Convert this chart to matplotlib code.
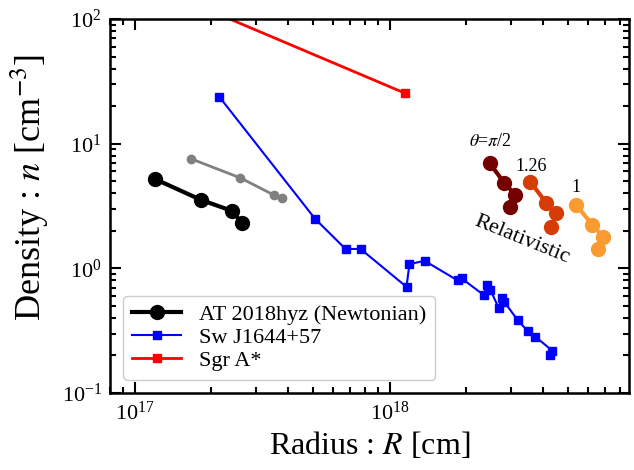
import matplotlib
matplotlib.use('Agg')
import matplotlib.pyplot as plt

# AT 2018hyz (Newtonian) and its companion grey curve
hyz_r = [1.20e17, 1.82e17, 2.42e17, 2.63e17]
hyz_n = [5.21, 3.54, 2.88, 2.31]
grey_r = [1.67e17, 2.60e17, 3.51e17, 3.77e17]
grey_n = [7.54, 5.31, 3.88, 3.67]

# Sw J1644+57
sw_r = [2.15e17, 5.1e17, 6.72e17, 7.7e17, 1.166e18, 1.197e18, 1.372e18,
        1.85e18, 1.92e18, 2.34e18, 2.42e18, 2.49e18, 2.68e18, 2.77e18,
        2.82e18, 3.18e18, 3.48e18, 3.74e18, 4.36e18, 4.28e18]
sw_n = [23.7, 2.5, 1.43, 1.43, 0.71, 1.08, 1.15,
        0.80, 0.83, 0.612, 0.736, 0.671, 0.481, 0.579,
        0.538, 0.386, 0.315, 0.282, 0.218, 0.202]

# Sgr A*
sgr_r = [5.0e16, 1.145e18]
sgr_n = [383.0, 25.5]

# Relativistic curves, labelled by theta
rel_labels = [r'$\theta$=$\pi$/2', '1.26', '1']
rel_colors = ['#750000', '#d63c06', '#f99b30']
rel_r = [[2.47e18, 2.82e18, 3.12e18, 2.98e18],
         [3.57e18, 4.13e18, 4.52e18, 4.32e18],
         [5.41e18, 6.25e18, 6.90e18, 6.60e18]]
rel_n = [[7.0, 4.84, 3.88, 3.11],
         [4.93, 3.34, 2.78, 2.15],
         [3.22, 2.23, 1.79, 1.43]]

plt.rcParams['font.family'] = ['Liberation Serif', 'DejaVu Serif']
plt.rcParams['mathtext.fontset'] = 'stix'

fig = plt.figure(figsize=(6.34, 4.70), dpi=100)
ax = fig.add_axes([0.1735, 0.1638, 0.8185, 0.7958])

ax.plot(grey_r, grey_n, '-o', color='gray', lw=2, ms=6)
ax.plot(hyz_r, hyz_n, '-o', color='black', lw=3, ms=10,
        label='AT 2018hyz (Newtonian)')
ax.plot(sw_r, sw_n, '-s', color='blue', lw=1.5, ms=6, label='Sw J1644+57')
ax.plot(sgr_r, sgr_n, '-s', color='red', lw=2, ms=6, label='Sgr A*')

for r, n, c in zip(rel_r, rel_n, rel_colors):
    ax.plot(r, n, '-o', color=c, lw=3, ms=10)

ax.text(2.5e18, 8.9, rel_labels[0], fontsize=13, ha='center', va='bottom')
ax.text(3.6e18, 5.6, rel_labels[1], fontsize=13, ha='center', va='bottom')
ax.text(5.4e18, 3.8, rel_labels[2], fontsize=13, ha='center', va='bottom')
ax.text(3.3e18, 1.7, 'Relativistic', fontsize=16, rotation=-22,
        ha='center', va='center')

ax.set_xscale('log')
ax.set_yscale('log')
ax.set_xlim(8e16, 8.7e18)
ax.set_ylim(0.1, 100)

ax.set_xlabel(r'Radius : $R$ [cm]', fontsize=23)
ax.set_ylabel(r'Density : $n$ [cm$^{-3}$]', fontsize=26)
ax.yaxis.set_label_coords(-0.113, 0.55)
ax.tick_params(which='both', direction='in', top=True, right=True,
               labelsize=16, width=1.5)
ax.tick_params(which='major', length=8, pad=6)
ax.tick_params(which='minor', length=4)
for s in ax.spines.values():
    s.set_linewidth(1.8)

ax.legend(loc='lower left', fontsize=16, handlelength=2.2,
          labelspacing=0.1, borderaxespad=0.6, framealpha=1,
          edgecolor='#cccccc')

fig.savefig('out.png', dpi=100)
